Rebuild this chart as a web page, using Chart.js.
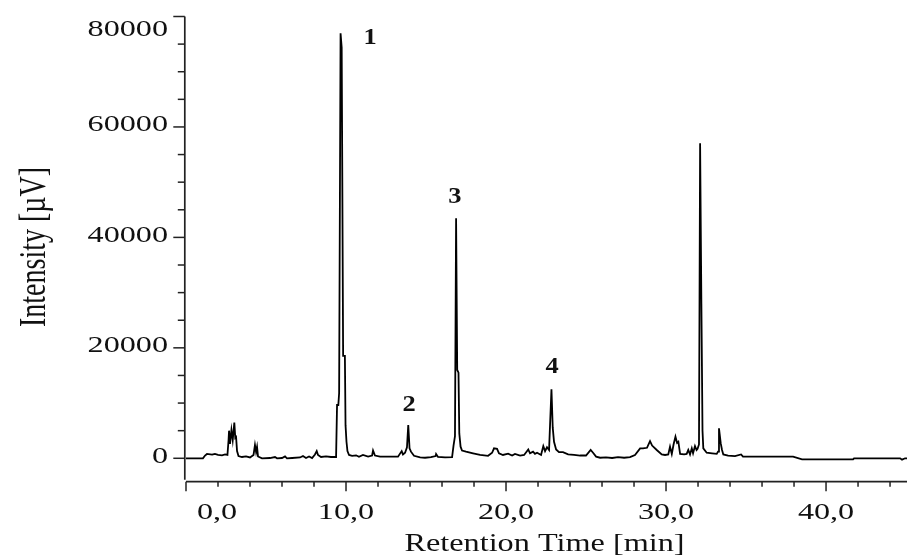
<!DOCTYPE html>
<html>
<head>
<meta charset="utf-8">
<script src="https://cdn.jsdelivr.net/npm/chart.js@4.4.1/dist/chart.umd.min.js"></script>
<style>
  html, body { margin: 0; padding: 0; background: #ffffff; }
  #wrap { width: 907px; height: 557px; position: relative; }
</style>
</head>
<body>
<div id="wrap"><canvas id="c"></canvas></div>
<script>
// ---------- data ----------
const retentionTimes = [
  0.0, 1.06, 1.19, 1.31, 1.63, 1.81, 2.0, 2.25, 2.44, 2.59, 2.66, 2.69, 2.75, 2.84, 2.92, 3.02, 3.08, 3.13, 3.19, 3.28,
  3.5, 3.75, 4.0, 4.22, 4.31, 4.38, 4.44, 4.5, 4.75, 5.25, 5.56, 5.69, 6.0, 6.19, 6.31, 6.63, 7.13, 7.31, 7.5, 7.69,
  7.88, 8.06, 8.17, 8.25, 8.44, 8.75, 9.06, 9.38, 9.44, 9.52, 9.57, 9.66, 9.73, 9.82, 9.93, 9.97, 10.03, 10.09, 10.19, 10.38,
  10.63, 10.81, 11.06, 11.38, 11.63, 11.69, 11.81, 12.13, 12.75, 13.25, 13.48, 13.56, 13.69, 13.81, 13.89, 13.97, 14.06, 14.25, 14.63, 14.94,
  15.31, 15.6, 15.63, 15.75, 16.19, 16.63, 16.72, 16.81, 16.88, 16.95, 17.03, 17.08, 17.16, 17.25, 17.5, 17.94, 18.38, 18.88, 19.13, 19.25,
  19.44, 19.56, 19.81, 20.13, 20.38, 20.56, 20.88, 21.13, 21.39, 21.5, 21.69, 21.81, 21.94, 22.19, 22.33, 22.44, 22.56, 22.69, 22.84, 22.92,
  23.0, 23.13, 23.31, 23.56, 23.88, 24.25, 24.63, 25.0, 25.29, 25.44, 25.63, 25.88, 26.25, 26.63, 27.0, 27.38, 27.75, 28.06, 28.38, 28.56,
  28.81, 29.0, 29.13, 29.42, 29.73, 29.94, 30.14, 30.25, 30.36, 30.47, 30.59, 30.69, 30.77, 30.88, 31.13, 31.29, 31.39, 31.5, 31.61, 31.69,
  31.81, 31.91, 31.97, 32.06, 32.13, 32.21, 32.28, 32.33, 32.54, 32.88, 33.17, 33.25, 33.31, 33.42, 33.5, 33.58, 33.88, 34.31, 34.69, 34.81,
  37.94, 38.5, 41.69, 41.75, 44.63, 44.75, 44.94, 45.06
];
const intensityValues = [
  0, 0, 500, 780, 650, 780, 600, 540, 690, 600, 3300, 5000, 2600, 5100, 3300, 6450, 3700, 3850, 1300, 400,
  230, 330, 150, 600, 2400, 1140, 2050, 330, 0, 50, 230, 0, 50, 330, 0, 50, 150, 420, 50, 330,
  50, 690, 1320, 600, 230, 330, 230, 230, 9650, 9650, 11830, 76970, 74400, 18560, 18560, 6000, 3000, 1300, 600, 450,
  540, 270, 600, 300, 500, 1400, 500, 300, 300, 300, 1300, 700, 1000, 2000, 6030, 1800, 1200, 450, 150, 100,
  200, 400, 780, 250, 150, 200, 2300, 4000, 43460, 16000, 15500, 4500, 2100, 1400, 1200, 900, 600, 450, 1000, 1800,
  1700, 900, 600, 850, 500, 800, 500, 600, 1600, 900, 1200, 800, 1000, 600, 2200, 1300, 2000, 1500, 12500, 5540,
  3000, 1600, 1100, 1100, 700, 600, 500, 500, 1500, 1000, 300, 100, 150, 50, 200, 100, 200, 600, 1800, 1800,
  1900, 3100, 2300, 1500, 700, 600, 700, 2100, 800, 2500, 3900, 2800, 3000, 800, 700, 800, 1500, 700, 1800, 900,
  2200, 1500, 1700, 2500, 57050, 27940, 5000, 1800, 1000, 900, 800, 1200, 5430, 2700, 1500, 700, 500, 400, 700, 300,
  300, -200, -200, 0, 0, -250, 0, 0
];

const xMajorTicks = [0, 10, 20, 30, 40];
const xTickLabels = ['0,0', '10,0', '20,0', '30,0', '40,0'];
const xMinorTicks = [2, 4, 6, 8, 12, 14, 16, 18, 22, 24, 26, 28, 32, 34, 36, 38, 42, 44];
const yMajorTicks = [0, 20000, 40000, 60000, 80000];
const yTickLabels = ['0', '20000', '40000', '60000', '80000'];
const yMinorTicks = [5000, 10000, 15000, 25000, 30000, 35000, 45000, 50000, 55000, 65000, 70000, 75000];

const peakLabels = ['1', '2', '3', '4'];
const peakLabelTimes = [11.5, 13.94, 16.81, 22.875];
const peakLabelValues = [76100, 9650, 47300, 16550];

const xTitle = 'Retention Time [min]';
const yTitle = 'Intensity [µV]';

// ---------- drawing ----------
const FONT = "'Liberation Serif', 'Times New Roman', serif";
const TEXT_COLOR = '#111111';
const STRETCH = 1.34;

function stretchedText(ctx, text, x, y, align, baseline, sx) {
  ctx.save();
  ctx.translate(x, y);
  ctx.scale(sx, 1);
  ctx.textAlign = align;
  ctx.textBaseline = baseline;
  ctx.fillText(text, 0, 0);
  ctx.restore();
}

const axesPlugin = {
  id: 'chromAxes',
  afterDraw(chart) {
    const ctx = chart.ctx;
    const xs = chart.scales.x, ys = chart.scales.y;
    const area = chart.chartArea;
    const axisX = area.left - 1.2;
    const axisY = area.bottom;
    ctx.save();
    ctx.strokeStyle = '#222222';
    ctx.lineWidth = 1.7;
    ctx.lineCap = 'butt';

    // y axis line
    ctx.beginPath();
    ctx.moveTo(axisX, area.top);
    ctx.lineTo(axisX, axisY - 2);
    ctx.stroke();
    // x axis line
    ctx.beginPath();
    ctx.moveTo(area.left, axisY);
    ctx.lineTo(area.right, axisY);
    ctx.stroke();

    // y ticks
    ctx.lineWidth = 1.5;
    yMajorTicks.forEach(v => {
      const py = ys.getPixelForValue(v);
      ctx.beginPath(); ctx.moveTo(axisX - 11.5, py); ctx.lineTo(axisX, py); ctx.stroke();
    });
    yMinorTicks.forEach(v => {
      const py = ys.getPixelForValue(v);
      ctx.beginPath(); ctx.moveTo(axisX - 7, py); ctx.lineTo(axisX, py); ctx.stroke();
    });
    // x ticks
    xMajorTicks.forEach(t => {
      const px = xs.getPixelForValue(t);
      ctx.beginPath(); ctx.moveTo(px, axisY); ctx.lineTo(px, axisY + 9.5); ctx.stroke();
    });
    xMinorTicks.forEach(t => {
      const px = xs.getPixelForValue(t);
      ctx.beginPath(); ctx.moveTo(px, axisY); ctx.lineTo(px, axisY + 5); ctx.stroke();
    });

    // labels
    ctx.fillStyle = TEXT_COLOR;
    ctx.font = '24px ' + FONT;
    yMajorTicks.forEach((v, i) => {
      const py = ys.getPixelForValue(v);
      const base = Math.max(py + 4.3, area.top + 19.5);
      stretchedText(ctx, yTickLabels[i], area.left - 18, base, 'right', 'alphabetic', STRETCH);
    });
    xMajorTicks.forEach((t, i) => {
      const px = xs.getPixelForValue(t);
      const w = ctx.measureText(xTickLabels[i]).width * STRETCH;
      const cx = Math.max(px, area.left + 11 + w / 2);
      stretchedText(ctx, xTickLabels[i], cx, axisY + 37, 'center', 'alphabetic', STRETCH);
    });

    // axis titles
    ctx.font = '25px ' + FONT;
    stretchedText(ctx, xTitle, (area.left + 904) / 2 - 0.5, 551, 'center', 'alphabetic', 1.29);

    ctx.save();
    ctx.font = '28px ' + FONT;
    ctx.translate(45, 247);
    ctx.scale(STRETCH, 1);
    ctx.rotate(-Math.PI / 2);
    ctx.textAlign = 'center';
    ctx.textBaseline = 'alphabetic';
    ctx.fillText(yTitle, 0, 0);
    ctx.restore();

    // peak numbers
    ctx.font = 'bold 23px ' + FONT;
    peakLabels.forEach((lab, i) => {
      const px = xs.getPixelForValue(peakLabelTimes[i]);
      const py = ys.getPixelForValue(peakLabelValues[i]);
      stretchedText(ctx, lab, px, py, 'center', 'middle', 1.15);
    });
    ctx.restore();
  }
};

new Chart(document.getElementById('c'), {
  type: 'line',
  data: {
    datasets: [{
      data: retentionTimes.map((t, i) => ({ x: t, y: intensityValues[i] })),
      borderColor: '#000000',
      borderWidth: 1.8,
      pointRadius: 0,
      tension: 0,
      fill: false
    }]
  },
  options: {
    responsive: true,
    maintainAspectRatio: false,
    animation: false,
    events: [],
    layout: { padding: { left: 186, top: 16.5, right: 0, bottom: 75.3 } },
    plugins: { legend: { display: false }, tooltip: { enabled: false } },
    scales: {
      x: { type: 'linear', min: 0, max: 45.06, display: false },
      y: { type: 'linear', min: -4240, max: 80000, display: false }
    }
  },
  plugins: [axesPlugin]
});
</script>
</body>
</html>
